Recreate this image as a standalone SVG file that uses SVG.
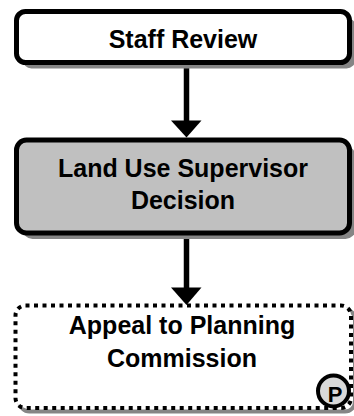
<svg xmlns="http://www.w3.org/2000/svg" width="354" height="416" viewBox="0 0 354 416">
<style>
.shadow{fill:#858585;stroke:none}
.box{stroke:#000;stroke-width:5}
.lbl{font-family:"Liberation Sans",Arial,sans-serif;font-weight:bold;font-size:25px;fill:#000;text-anchor:middle}
.conn{stroke:#000;stroke-width:5.5;fill:none}
.head{fill:#000;stroke:none}
</style>
<rect width="354" height="416" fill="#fff"/>
<g id="connectors">
<line class="conn" x1="186.5" y1="68" x2="186.5" y2="122"/>
<polygon class="head" points="171,120.5 201.5,120.5 186.5,137.5"/>
<line class="conn" x1="186.5" y1="238" x2="186.5" y2="289"/>
<polygon class="head" points="171,287.5 201.5,287.5 186.5,305"/>
</g>
<g id="staff-review">
<rect class="shadow" x="22.5" y="17.5" width="333" height="51" rx="9"/>
<rect class="box" x="16.5" y="11.5" width="333" height="51" rx="9" fill="#fff"/>
<text class="lbl" x="183" y="47.5">Staff Review</text>
</g>
<g id="supervisor-decision">
<rect class="shadow" x="22.5" y="146" width="333" height="93" rx="10"/>
<rect class="box" x="16.5" y="140" width="333" height="93" rx="10" fill="#c0c0c0"/>
<text class="lbl" x="183" y="176.5">Land Use Supervisor</text>
<text class="lbl" x="183" y="209">Decision</text>
</g>
<g id="appeal">
<rect x="19.5" y="309.5" width="335.5" height="102" rx="10" fill="none" stroke="#858585" stroke-width="4"/>
<rect x="15.5" y="305.5" width="335.5" height="102.5" rx="10" fill="#fff" stroke="#000" stroke-width="4" stroke-dasharray="4 4.5"/>
<text class="lbl" x="182" y="333.5">Appeal to Planning</text>
<text class="lbl" x="182" y="366.5">Commission</text>
<circle cx="333.5" cy="391" r="15.5" fill="#d9d9d9" stroke="#000" stroke-width="4"/>
<text x="335" y="401.5" font-family="'Liberation Sans',Arial,sans-serif" font-weight="bold" font-size="22" text-anchor="middle" fill="#000">P</text>
</g>
</svg>
